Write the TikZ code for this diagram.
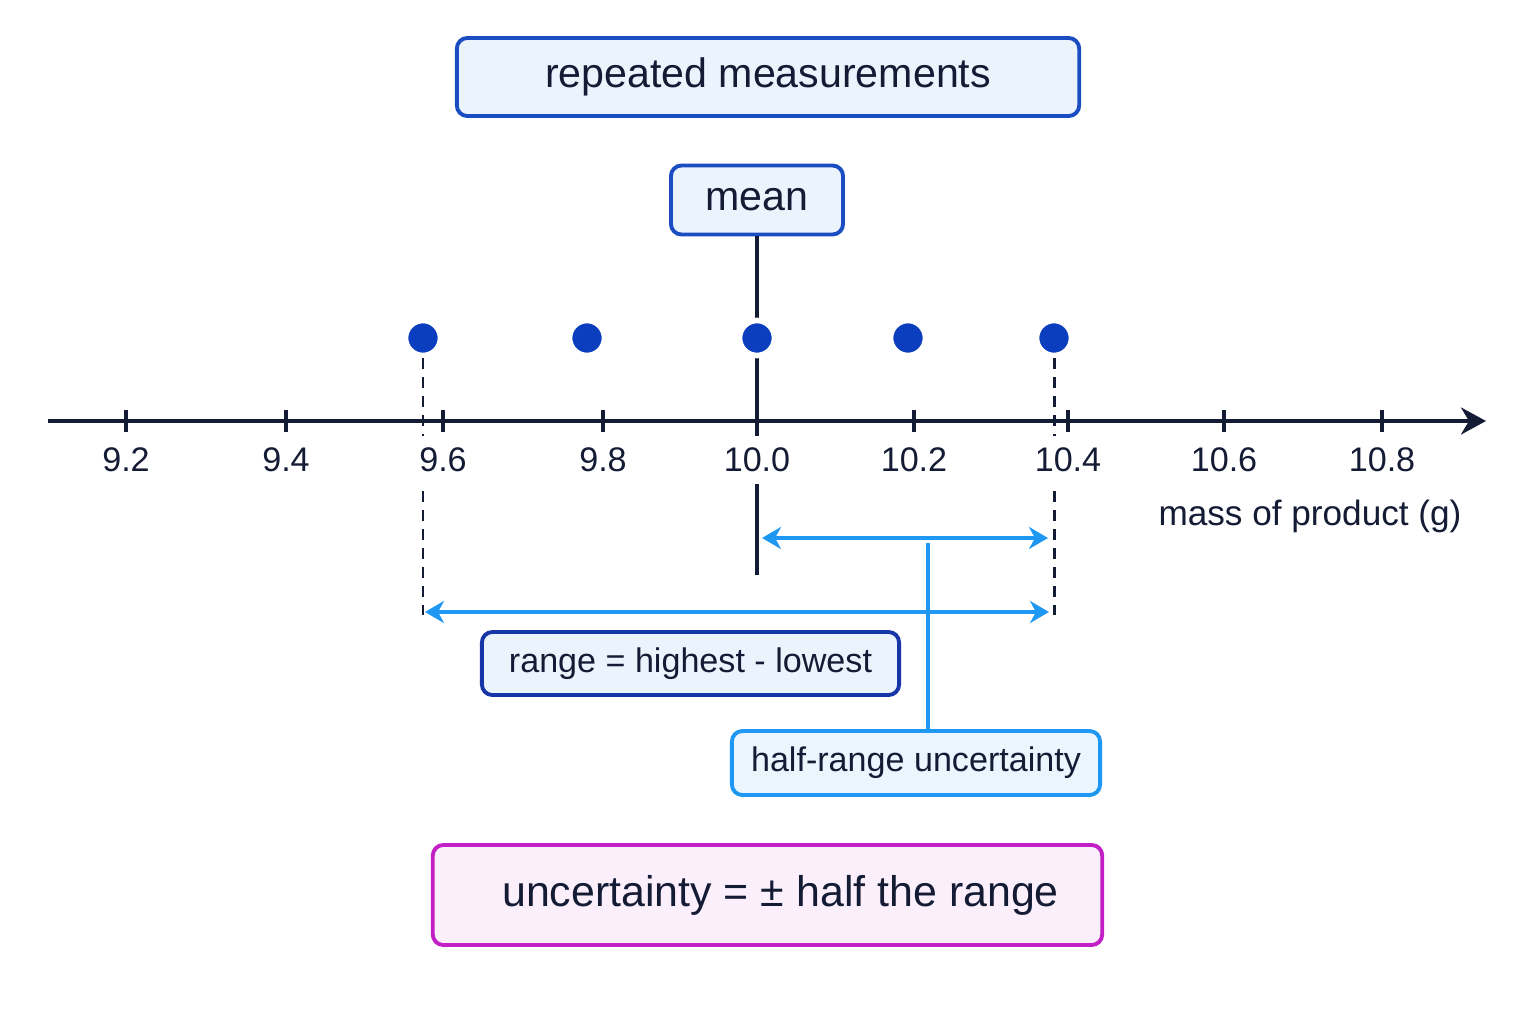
\documentclass[tikz,border=0pt]{standalone}
\usepackage{fontspec}
\setmainfont{Liberation Sans}
\usetikzlibrary{arrows.meta}
\definecolor{inkdark}{HTML}{141B34}
\definecolor{boxblue}{HTML}{1A4DC2}
\definecolor{rangeblue}{HTML}{1636A8}
\definecolor{boxfill}{HTML}{EBF4FD}
\definecolor{skyblue}{HTML}{1E98F2}
\definecolor{skyfill}{HTML}{EAF5FE}
\definecolor{dotblue}{HTML}{0B3EBF}
\definecolor{plumline}{HTML}{C21FC6}
\definecolor{plumfill}{HTML}{FBEFFB}
\begin{document}
\begin{tikzpicture}[x=0.01cm, y=-0.01cm,
    box/.style={draw=boxblue, fill=boxfill, line width=1.1pt, rounded corners=3pt, text=inkdark, inner sep=0pt},
    ticklab/.style={fill=white, text=inkdark, font=\fontsize{9.7pt}{12pt}\selectfont},
    dot/.style={circle, fill=dotblue, draw=white, line width=1.6pt, minimum size=0.35cm, inner sep=0pt},
    skyarrow/.style={draw=skyblue, line width=1pt, {Stealth[length=1.9mm, width=2.2mm, inset=0.6mm]}-{Stealth[length=1.9mm, width=2.2mm, inset=0.6mm]}},
    guide/.style={draw=inkdark, line width=0.85pt, dash pattern=on 1.1mm off 0.8mm}]
    \useasboundingbox[fill=white] (0,0) rectangle (1536,1024);
    \node[box, minimum width=6.22cm, minimum height=0.78cm, font=\fontsize{11.7pt}{14pt}\selectfont] (repeated) at (768,77) {repeated measurements};
    \node[box, minimum width=1.72cm, minimum height=0.69cm, font=\fontsize{11.7pt}{14pt}\selectfont] (mean) at (757,200) {mean};
    \coordinate (axL) at (48,421);
    \coordinate (axR) at (1486,421);
    \draw[inkdark, line width=1pt, -{Stealth[length=2.5mm, width=2.7mm, inset=0.8mm]}] (axL) -- (axR);
    \coordinate (meanEnd) at (757,575);
    \draw[inkdark, line width=0.95pt] (mean.south) -- (meanEnd);
    \foreach \x [count=\i] in {423,587,757,908,1054}
        \node[dot] (d\i) at (\x,338) {};
    \coordinate (lo) at (423,615);
    \coordinate (hi) at (1054,615);
    \draw[guide] (d1.south) -- (lo);
    \draw[guide] (d5.south) -- (hi);
    \foreach \x/\v [count=\i] in {126/9.2, 286/9.4, 443/9.6, 603/9.8, 757/10.0, 914/10.2, 1068/10.4, 1224/10.6, 1382/10.8} {
        \draw[inkdark, line width=0.9pt] (\x,410) -- (\x,432);
        \node[ticklab] (t\i) at (\x,460) {\v};
    }
    \node[text=inkdark, font=\fontsize{10pt}{12pt}\selectfont] (axlab) at (1310,516) {mass of product (g)};
    \coordinate (hL) at (762,538);
    \coordinate (hR) at (1048,538);
    \coordinate (rL) at (425,612);
    \coordinate (rR) at (1049,612);
    \draw[skyarrow] (hL) -- (hR);
    \draw[skyarrow] (rL) -- (rR);
    \node[box, draw=rangeblue, minimum width=4.17cm, minimum height=0.63cm, font=\fontsize{9.7pt}{12pt}\selectfont] (range) at (690.5,663.5) {range = highest - lowest};
    \node[box, draw=skyblue, fill=skyfill, minimum width=3.68cm, minimum height=0.64cm, font=\fontsize{9.7pt}{12pt}\selectfont] (half) at (916,763) {half-range uncertainty};
    \coordinate (hmid) at (928,543);
    \draw[skyblue, line width=1pt] (hmid) -- (hmid |- half.north);
    \node[box, draw=plumline, fill=plumfill, minimum width=6.69cm, minimum height=1.0cm, font=\fontsize{12.2pt}{15pt}\selectfont] (uncert) at (767.5,895) {\hspace{0.26cm}uncertainty = ± half the range};
\end{tikzpicture}
\end{document}
